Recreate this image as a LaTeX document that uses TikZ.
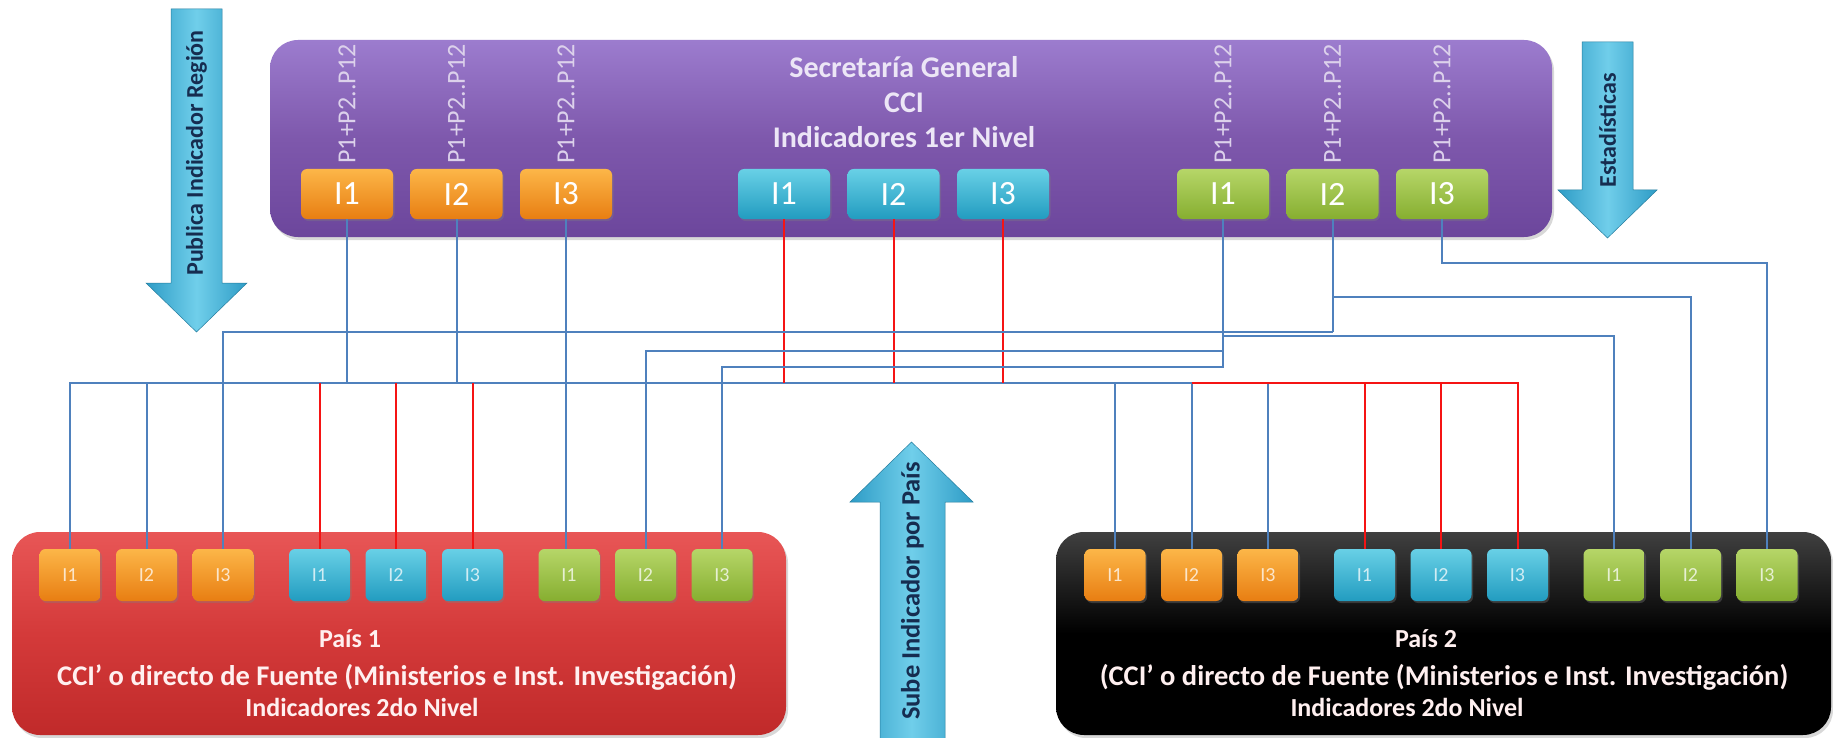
\documentclass[tikz,border=0pt]{standalone}
\usepackage{fontspec}
\setmainfont{Carlito}
\usetikzlibrary{shadows}

\definecolor{naranjaTop}{RGB}{252,182,72}
\definecolor{naranjaBot}{RGB}{232,126,18}
\definecolor{cianTop}{RGB}{104,208,230}
\definecolor{cianBot}{RGB}{34,156,192}
\definecolor{verdeTop}{RGB}{182,214,104}
\definecolor{verdeBot}{RGB}{134,174,48}
\definecolor{moradoTop}{RGB}{156,124,206}
\definecolor{morado}{RGB}{126,88,172}
\definecolor{moradoBot}{RGB}{108,70,156}
\definecolor{rojoTop}{RGB}{232,86,86}
\definecolor{rojo}{RGB}{212,58,58}
\definecolor{rojoBot}{RGB}{192,42,42}
\definecolor{flechaC}{RGB}{46,156,198}
\definecolor{flechaL}{RGB}{112,206,234}
\definecolor{lineaAzul}{RGB}{79,129,189}
\definecolor{lineaRoja}{RGB}{245,20,20}
\definecolor{textoFlecha}{RGB}{22,45,80}
\definecolor{textoLila}{RGB}{236,230,246}

\begin{document}
\begin{tikzpicture}[x=1pt, y=-1pt,
    ind/.style = {rounded corners=6pt, minimum width=92pt, minimum height=50pt,
      inner sep=0pt, text=white, font=\fontsize{34}{34}\selectfont,
      drop shadow={opacity=.35, shadow xshift=1.5pt, shadow yshift=-2pt}},
    indsm/.style = {ind, minimum width=61pt, minimum height=52pt,
      text opacity=.75, font=\fontsize{20}{20}\selectfont},
    O/.style = {top color=naranjaTop, bottom color=naranjaBot},
    C/.style = {top color=cianTop, bottom color=cianBot},
    G/.style = {top color=verdeTop, bottom color=verdeBot},
    caja/.style = {rounded corners=28pt, inner sep=0pt,
      drop shadow={opacity=.3, shadow xshift=2pt, shadow yshift=-3pt}},
    plabel/.style = {rotate=90, anchor=west, inner sep=0pt, text=textoLila!85!morado,
      font=\fontsize{26}{26}\selectfont},
    pais/.style = {text=white!94!red, font=\bfseries\fontsize{26}{26}\selectfont},
    flecha/.style = {left color=flechaC, right color=flechaC, middle color=flechaL,
      draw=flechaC!80!black, line width=.5pt},
    ftxt/.style = {rotate=90, text=textoFlecha, font=\bfseries\fontsize{24}{24}\selectfont},
    azul/.style = {draw=lineaAzul, line width=2pt},
    roja/.style = {draw=lineaRoja, line width=2pt},
  ]
  \fill[white] (0,0) rectangle (1833,738);
  \useasboundingbox (0,0) rectangle (1833,738);

  % flechas
  \path[flecha] (171,9) -- (222,9) -- (222,283) -- (247,283) -- (196.5,332)
    -- (146,283) -- (171,283) -- cycle;
  \node[ftxt] (publica) at (196.5,153) {Publica Indicador Región};
  \path[flecha] (1582,42) -- (1633,42) -- (1633,190) -- (1657,190)
    -- (1607.5,238) -- (1558,190) -- (1582,190) -- cycle;
  \node[ftxt] (estad) at (1607.5,130) {Estadísticas};
  \path[flecha] (911.5,442) -- (973,502) -- (945,502) -- (945,739)
    -- (880,739) -- (880,502) -- (850,502) -- cycle;
  \node[ftxt, font=\bfseries\fontsize{26.5}{26.5}\selectfont] (sube) at (912.5,591)
    {Sube Indicador por País};

  % cajas grandes
  \node[caja, minimum width=1282pt, minimum height=197pt,
    top color=moradoTop, bottom color=moradoBot, middle color=morado]
    (sg) at (911,138.5) {};
  \node[caja, minimum width=774pt, minimum height=203pt,
    top color=rojoTop, bottom color=rojoBot, middle color=rojo]
    (pais1) at (399,633.5) {};
  \node[caja, minimum width=775pt, minimum height=203pt,
    top color=black!75, bottom color=black, middle color=black]
    (pais2) at (1443.5,633.5) {};

  \node[align=center, text=textoLila, font=\bfseries\fontsize{30}{35}\selectfont]
    (sgtxt) at (904,102) {Secretaría General\\CCI\\Indicadores 1er Nivel};

  % indicadores
  \foreach \g/\xs/\xa in {O/347/70, C/784/319.5, G/1223/569} {
    \foreach \k in {1,2,3} {
      \node[ind, \g] (s\g\k) at ({\xs+(\k-1)*109.5},194) {I\k};
      \node[indsm, \g] (a\g\k) at ({\xa+(\k-1)*76.5},575) {I\k};
      \node[indsm, \g] (b\g\k) at ({\xa+1045+(\k-1)*76.5},575) {I\k};
    }
  }
  \foreach \n in {sO1,sO2,sO3,sG1,sG2,sG3}
    \node[plabel] (p\n) at ([yshift=5pt]\n.north) {P1+P2..P12};

  \node[pais] (p1a) at (350,639) {País 1};
  \node[pais, font=\bfseries\fontsize{28.5}{28.5}\selectfont] (p1b) at (397,677)
    {CCI’ o directo de Fuente (Ministerios e Inst. Investigación)};
  \node[pais] (p1c) at (362,707) {Indicadores 2do Nivel};
  \node[pais] (p2a) at (1426,639) {País 2};
  \node[pais, font=\bfseries\fontsize{28.5}{28.5}\selectfont] (p2b) at (1444,677)
    {(CCI’ o directo de Fuente (Ministerios e Inst. Investigación)};
  \node[pais] (p2c) at (1407,707) {Indicadores 2do Nivel};

  % conexiones
  \coordinate (lA) at (0,263);
  \coordinate (lB) at (0,297);
  \coordinate (lC) at (0,332);
  \coordinate (lC2) at (0,336);
  \coordinate (lD) at (0,351);
  \coordinate (lE) at (0,367);
  \coordinate (bus) at (0,383);

  \draw[azul] (aO1.north) |- (bO2.north |- bus) -- (bO2.north);
  \foreach \n in {aO2.north, bO1.north, bO3.north, sO1.south, sO2.south}
    \draw[azul] (\n) -- (\n |- bus);
  \draw[roja] (bO2.north |- bus) -| (bC3.north);
  \foreach \n in {aC1.north, aC2.north, aC3.north, bC1.north, bC2.north,
      sC1.south, sC2.south, sC3.south}
    \draw[roja] (\n) -- (\n |- bus);

  \draw[azul] (sO3.south) -- (sO3.south |- aG1.north);
  \draw[azul] (sG1.south) |- (aG3.north |- lE) -- (aG3.north);
  \draw[azul] (aG2.north) |- (sG1.south |- lD);
  \draw[azul] (aO3.north) |- (sG2.south |- lC);
  \draw[azul] (sG2.south) -- (sG2.south |- lC);
  \draw[azul] (sG1.south |- lC2) -| (bG1.north);
  \draw[azul] (sG2.south |- lB) -| (bG2.north);
  \draw[azul] (sG3.south) |- (bG3.north |- lA) -- (bG3.north);
\end{tikzpicture}
\end{document}
